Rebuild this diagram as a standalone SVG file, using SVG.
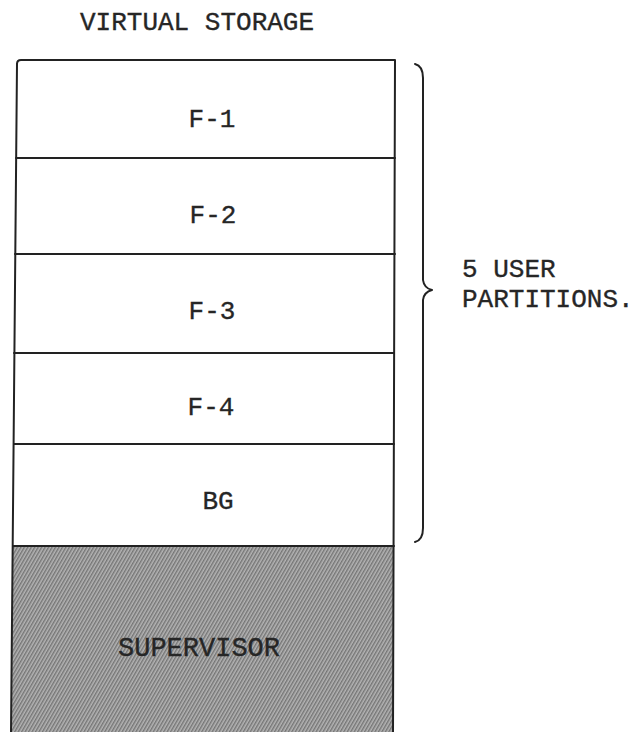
<svg xmlns="http://www.w3.org/2000/svg" width="641" height="732" viewBox="0 0 641 732">
  <style>
    .lbl { font-family: "Liberation Mono", "DejaVu Sans Mono", monospace; font-size: 26px; fill: #262626; stroke: #262626; stroke-width: 0.35; }
    .mid { text-anchor: middle; }
    .edge { fill: none; stroke: #222; stroke-width: 2; stroke-linecap: round; stroke-linejoin: round; }
  </style>
  <defs>
    <!-- diagonal hatching used for the supervisor area -->
    <pattern id="hatch" width="3" height="3" patternUnits="userSpaceOnUse" patternTransform="rotate(30)">
      <rect width="3" height="3" fill="#b4b4b4"/>
      <line x1="0.8" y1="0" x2="0.8" y2="3" stroke="#5a5a5a" stroke-width="1"/>
    </pattern>
  </defs>

  <rect width="641" height="732" fill="#ffffff"/>

  <text id="title" class="lbl" x="80" y="30">VIRTUAL STORAGE</text>

  <!-- supervisor region -->
  <g id="supervisor">
    <polygon points="13,546 394,546 393,733 11,733" fill="url(#hatch)"/>
    <text class="lbl mid" x="199" y="656" style="font-size:27px" fill="#303030">SUPERVISOR</text>
  </g>

  <!-- user partitions -->
  <g id="f1">
    <text class="lbl mid" x="212" y="127">F-1</text>
  </g>
  <g id="f2">
    <text class="lbl mid" x="213" y="223">F-2</text>
  </g>
  <g id="f3">
    <text class="lbl mid" x="212" y="319">F-3</text>
  </g>
  <g id="f4">
    <text class="lbl mid" x="211" y="415">F-4</text>
  </g>
  <g id="bg">
    <text class="lbl mid" x="218" y="509">BG</text>
  </g>

  <!-- outline and partition dividers -->
  <g id="outline">
    <path class="edge" d="M17,64 Q17,60 21,60 L395,60 L393,733"/>
    <path class="edge" d="M17,64 L11,733"/>
    <line class="edge" x1="16" y1="158" x2="395" y2="158"/>
    <line class="edge" x1="15" y1="254" x2="395" y2="254"/>
    <line class="edge" x1="14" y1="353" x2="394" y2="353"/>
    <line class="edge" x1="14" y1="444" x2="394" y2="444"/>
    <line class="edge" x1="13" y1="546" x2="394" y2="546"/>
  </g>

  <!-- brace grouping the user partitions -->
  <g id="connectors">
    <path class="edge" d="M415,64 Q423,66 423,78 L423,280 Q424,288 432,290 Q424,292 423,300 L423,528 Q423,540 415,542"/>
  </g>

  <g id="note">
    <text class="lbl" x="462" y="277">5 USER</text>
    <text class="lbl" x="462" y="307">PARTITIONS.</text>
  </g>
</svg>
